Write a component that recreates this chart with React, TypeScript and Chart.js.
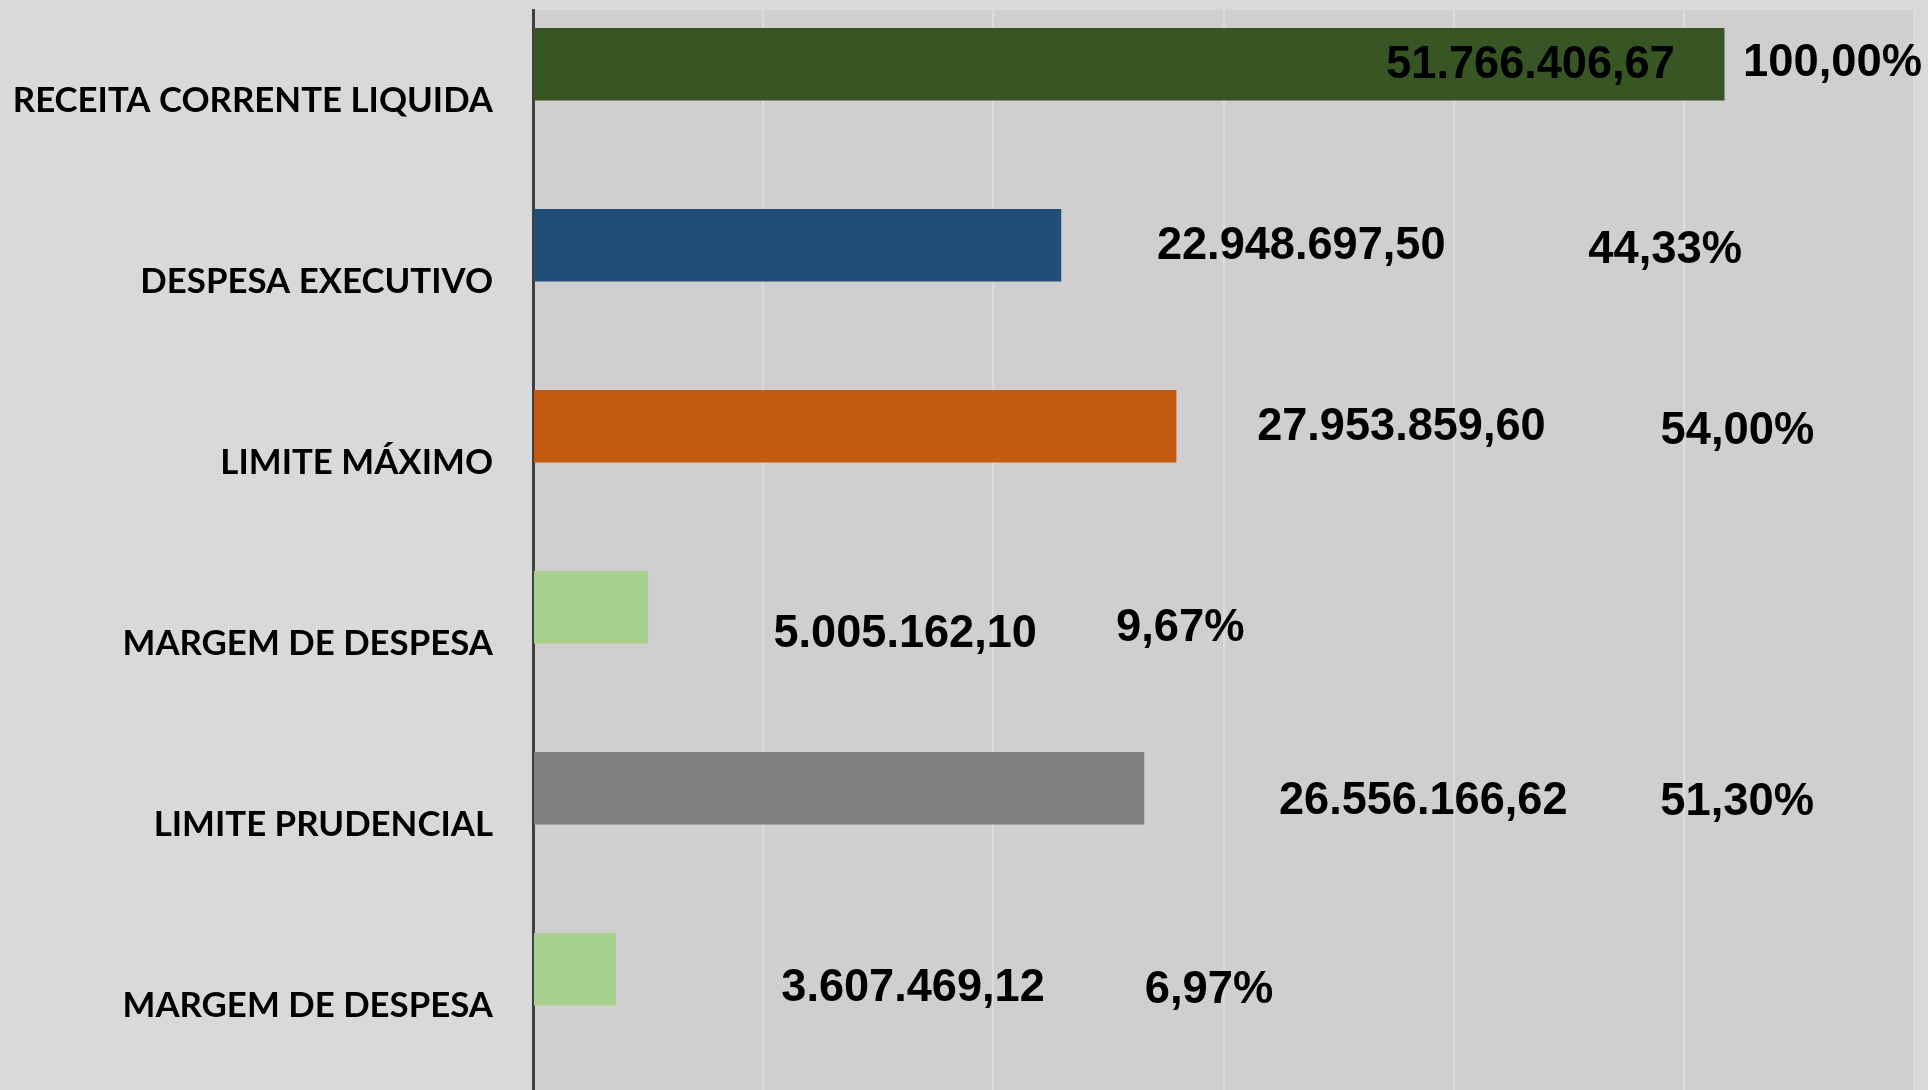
import { useEffect, useRef } from 'react';
import { Chart, registerables } from 'chart.js';

Chart.register(...registerables);

// ---- data ----
const categories = [
  'RECEITA CORRENTE LIQUIDA',
  'DESPESA EXECUTIVO',
  'LIMITE MÁXIMO',
  'MARGEM DE DESPESA',
  'LIMITE PRUDENCIAL',
  'MARGEM DE DESPESA',
];
const values = [51766406.67, 22948697.5, 27953859.6, 5005162.1, 26556166.62, 3607469.12];
const percents = [100.0, 44.33, 54.0, 9.67, 51.3, 6.97];
const barColors = ['#375623', '#1F4E79', '#C55A11', '#A9D18E', '#7F7F7F', '#A9D18E'];
const axisMax = 60000000;
const axisStep = 10000000;

// ---- label placement (pixels, like manually dragged Excel data labels) ----
const valueLabelDx = [-194, 240, 225, 257, 279, 297];
const valueLabelDy = [-2, -2, -2, 24, 10, 16];
const pctLabelDx = [302, 364, 336, 275, 314, 296];
const pctLabelDy = [-4, 2, 2, 18, 11, 18];

function fmtBR(v: number, decimals: number): string {
  const s = v.toFixed(decimals);
  const [intPart, dec] = s.split('.');
  const grouped = intPart.replace(/\B(?=(\d{3})+(?!\d))/g, '.');
  return dec !== undefined ? grouped + ',' + dec : grouped;
}

function drawLabel(ctx: CanvasRenderingContext2D, text: string, cx: number, cy: number, sx: number) {
  ctx.save();
  ctx.font = 'bold 47px "Liberation Sans", Arial, sans-serif';
  const asc = ctx.measureText('0123456789').actualBoundingBoxAscent;
  ctx.translate(cx, cy + asc / 2);
  ctx.scale(sx, 1);
  ctx.textAlign = 'center';
  ctx.textBaseline = 'alphabetic';
  ctx.fillStyle = '#000000';
  ctx.fillText(text, 0, 0);
  ctx.restore();
}

const backgroundPlugin = {
  id: 'bgPlugin',
  beforeDraw(chart: any) {
    const { ctx, chartArea } = chart;
    ctx.save();
    ctx.fillStyle = '#D9D9D9';
    ctx.fillRect(0, 0, chart.width, chart.height);
    ctx.fillStyle = '#D0CECF';
    ctx.fillRect(chartArea.left, chartArea.top, chartArea.right - chartArea.left, chartArea.bottom - chartArea.top);
    ctx.restore();
  },
};

const labelPlugin = {
  id: 'labelPlugin',
  afterDatasetsDraw(chart: any) {
    const ctx = chart.ctx as CanvasRenderingContext2D;
    const meta0 = chart.getDatasetMeta(0);
    meta0.data.forEach((bar: any, i: number) => {
      const { x, y } = bar.getProps(['x', 'y'], true);
      const vx = x + valueLabelDx[i];
      const vy = y + valueLabelDy[i];
      drawLabel(ctx, fmtBR(chart.data.datasets[0].data[i], 2), vx, vy, 0.96);
      const pv = chart.data.datasets[1].data[i] as number;
      const py = y + pctLabelDy[i];
      drawLabel(ctx, fmtBR(pv, 2) + '%', vx + pctLabelDx[i], py, 0.965);
    });
  },
};

export default function App() {
  const canvasRef = useRef<HTMLCanvasElement | null>(null);

  useEffect(() => {
    document.body.style.margin = '0';
    const canvas = canvasRef.current;
    if (!canvas) return;
    const chart = new Chart(canvas, {
      type: 'bar',
      data: {
        labels: categories,
        datasets: [
          {
            label: 'Valor',
            data: values,
            backgroundColor: barColors,
            borderWidth: 0,
            categoryPercentage: 0.8,
            barPercentage: 1.0,
          },
          {
            label: 'Percentual',
            data: percents,
            backgroundColor: 'rgba(0,0,0,0)',
            borderWidth: 0,
            categoryPercentage: 0.8,
            barPercentage: 1.0,
          },
        ],
      },
      options: {
        indexAxis: 'y',
        responsive: false,
        animation: false,
        devicePixelRatio: 1,
        events: [],
        layout: { padding: { top: 10, right: 14, left: 0, bottom: 0 } },
        plugins: {
          legend: { display: false },
          tooltip: { enabled: false },
        },
        scales: {
          x: {
            type: 'linear',
            min: 0,
            max: axisMax,
            ticks: { display: false, stepSize: axisStep },
            grid: {
              drawTicks: false,
              lineWidth: 2,
              color: (c: any) => (c.index === 0 ? 'rgba(0,0,0,0)' : '#DCDCDC'),
            },
            border: { display: false },
            afterFit: (scale: any) => {
              scale.height = 0;
              scale.paddingLeft = 0;
              scale.paddingRight = 0;
            },
          },
          y: {
            type: 'category',
            grid: { display: false, drawTicks: false },
            border: { display: true, color: '#404040', width: 3 },
            ticks: {
              color: '#000000',
              padding: 40,
              font: { family: 'Lato, "Open Sans", sans-serif', size: 34.8, weight: 'bold' },
            },
            afterFit: (scale: any) => {
              scale.width = 533;
              scale.paddingTop = 0;
              scale.paddingBottom = 0;
            },
          },
        },
      },
      plugins: [backgroundPlugin, labelPlugin],
    } as any);
    return () => chart.destroy();
  }, []);

  return (
    <div style={{ position: 'fixed', left: 0, top: 0, width: 1928, height: 1090, overflow: 'hidden' }}>
      <canvas ref={canvasRef} width={1928} height={1096} style={{ display: 'block' }} />
    </div>
  );
}
